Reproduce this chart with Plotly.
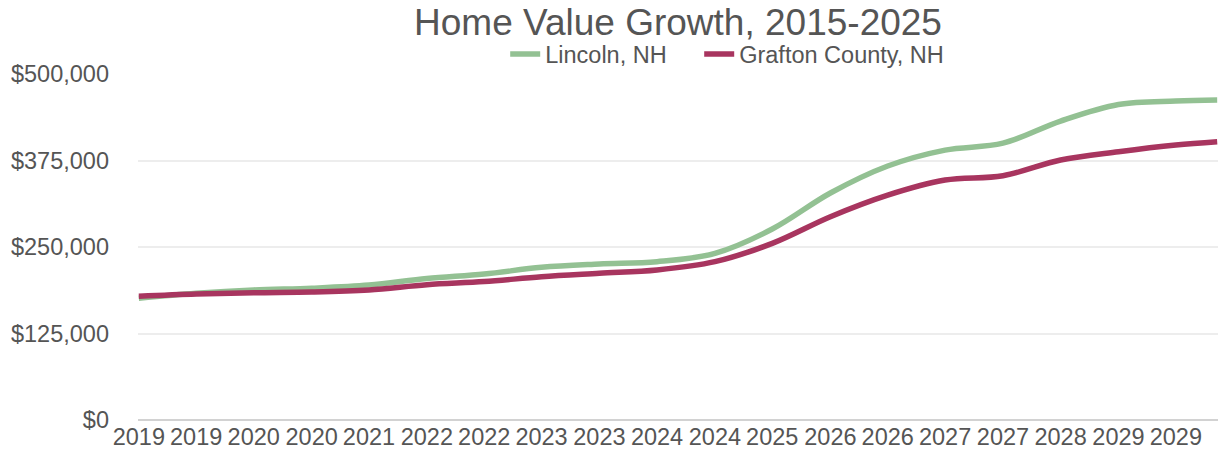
import plotly.graph_objects as go

# Sample dates (every seven months, plus the final month)
dates = [
    "2019-02-01", "2019-09-01", "2020-04-01", "2020-11-01", "2021-06-01",
    "2022-01-01", "2022-08-01", "2023-03-01", "2023-10-01", "2024-05-01",
    "2024-12-01", "2025-07-01", "2026-02-01", "2026-09-01", "2027-04-01",
    "2027-11-01", "2028-06-01", "2029-01-01", "2029-08-01", "2030-01-01",
]

# Typical home value, USD
lincoln = [
    175800, 183000, 187900, 190500, 195000,
    204500, 211000, 220600, 225400, 228800,
    240800, 276000, 328000, 367000, 390000,
    400000, 432000, 456000, 461000, 462400,
]
grafton = [
    178800, 182000, 184000, 185000, 188000,
    195500, 200000, 207000, 212000, 216800,
    228800, 255300, 293800, 325000, 346800,
    353000, 375700, 387700, 397400, 402200,
]

GREEN = "#93c193"
RED = "#a8355f"
TEXT = "#555555"
FONT = "Liberation Sans, Arial, Helvetica, sans-serif"

fig = go.Figure()
fig.add_trace(go.Scatter(
    x=dates, y=lincoln, name="Lincoln, NH", mode="lines",
    line=dict(color=GREEN, width=5.5, shape="spline", smoothing=1.0),
    legendwidth=149,
))
fig.add_trace(go.Scatter(
    x=dates, y=grafton, name="Grafton County, NH", mode="lines",
    line=dict(color=RED, width=5.5, shape="spline", smoothing=1.0),
    legendwidth=215,
))

fig.update_layout(
    width=1226, height=459,
    margin=dict(l=138, r=8, t=74, b=39),
    paper_bgcolor="white", plot_bgcolor="white",
    font=dict(family=FONT, color=TEXT, size=23.5),
    title=dict(
        text="Home Value Growth, 2015-2025",
        font=dict(size=37, color=TEXT, family=FONT),
        x=0.5, xref="paper", xanchor="center",
        y=0.952, yref="container", yanchor="middle",
    ),
    legend=dict(
        orientation="h", x=0.34, xanchor="left",
        y=1.057, yanchor="middle", yref="paper",
        font=dict(size=23.5, color=TEXT), itemwidth=30,
        traceorder="normal", bgcolor="rgba(0,0,0,0)",
    ),
    showlegend=True,
)

fig.update_xaxes(
    type="date",
    range=["2019-01-29", "2030-01-04"],
    tick0="2019-02-01", dtick="M7", tickformat="%Y",
    showgrid=False, zeroline=False, showline=False,
    ticks="", tickfont=dict(size=23.5, color=TEXT),
)
fig.update_yaxes(
    range=[0, 500000], dtick=125000,
    tickprefix="$", tickformat=",",
    showgrid=True, gridcolor="#ededed", gridwidth=2,
    zeroline=True, zerolinecolor="#d2d2d2", zerolinewidth=2,
    showline=False, ticks="", ticklabelstandoff=28,
    tickfont=dict(size=23.5, color=TEXT),
)

fig.write_html("out.html")
